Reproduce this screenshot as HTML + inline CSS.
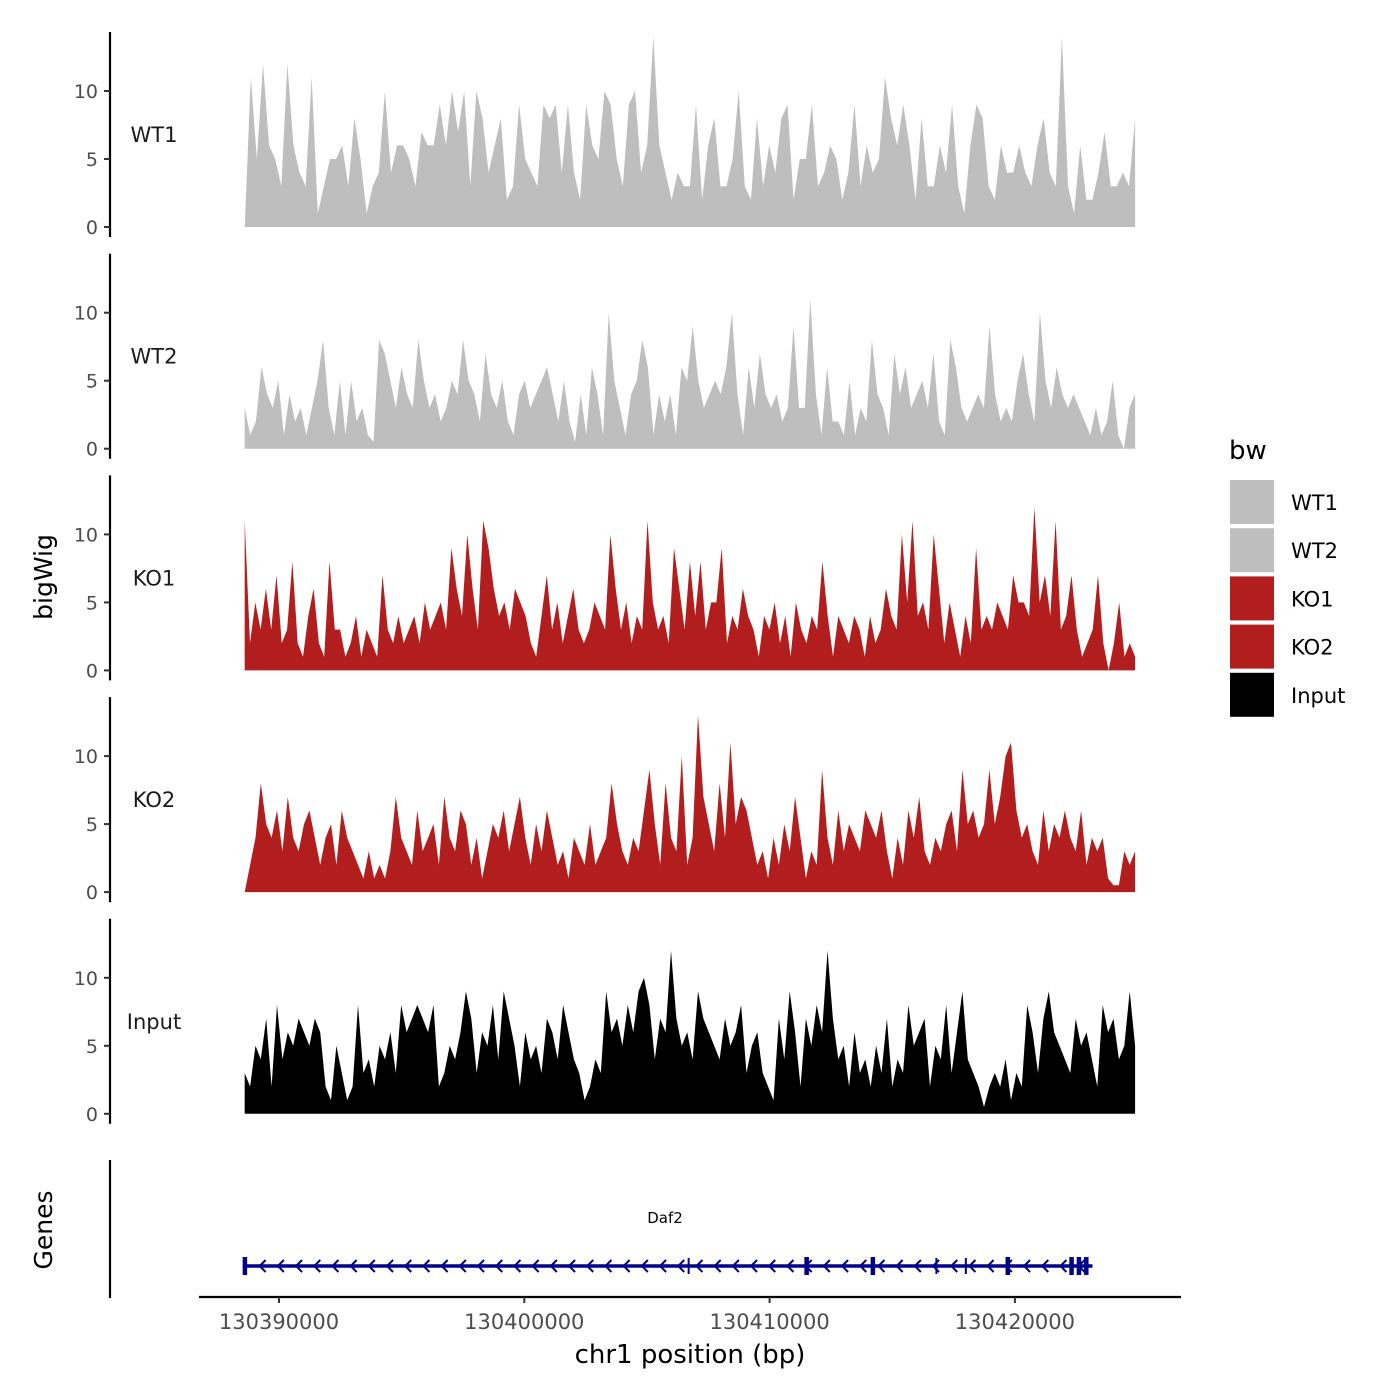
<!DOCTYPE html>
<html><head><meta charset="utf-8"><style>
html,body{margin:0;padding:0;background:#fff;}
svg{display:block;font-family:"DejaVu Sans","Liberation Sans",sans-serif;}
</style></head><body>
<svg id="chart" width="1400" height="1400" viewBox="0 0 1400 1400" xmlns="http://www.w3.org/2000/svg"></svg>
<script>
const trackNames = ["WT1","WT2","KO1","KO2","Input"];
const trackColors = ["#bebebe","#bebebe","#b21e1e","#b21e1e","#000000"];
const wt1 = [0,11,5,12,6,5,3,12,6,4,3,11,1,3,5,5,6,3,8,5,1,3,4,10,4,6,6,5,3,7,6,6,9,6,10,7,10,3,10,8,4,6,8,2,3,9,5,4,3,9,8,9,4,9,4,2,9,6,5,10,9,5,3,9,10,4,6,14,6,4,2,4,3,3,9,2,6,8,3,3,5,10,3,2,8,3,6,4,8,9,2,5,5,9,3,4,6,5,2,4,9,3,6,4,5,11,8,6,9,6,2,8,3,3,6,4,9,3,1,6,9,8,3,2,6,4,4,6,4,3,6,8,4,3,14,3,1,6,2,2,4,7,3,3,4,3,8];
const wt2 = [3,1,2,6,4,3,5,1,4,2,3,1,3,5,8,3,1,5,1,5,2,3,1,0.5,8,7,5,3,6,4,3,8,5,3,4,2,3,5,4,8,5,4,2,7,4,3,5,2,1,4,5,3,4,5,6,4,2,5,2,0.5,4,1,6,4,1,10,5,3,1,4,5,8,6,1,4,2,4,1,6,5,9,5,3,4,5,4,6,10,4,1,6,3,7,4,3,4,2,3,9,3,3,11,4,1,6,2,2,1,5,1,3,2,8,4,3,1,7,4,6,3,4,5,3,7,2,1,8,6,3,2,3,4,3,9,4,2,3,2,5,7,4,2,10,5,3,6,4,3,4,3,2,1,3,1,2,5,1,0,3,4];
const ko1 = [11,2,5,3,6,3,7,2,3,8,2,1,4,6,2,1,8,3,3,1,2,4,1,3,2,1,7,3,2,4,2,3,4,2,5,3,4,5,3,9,6,4,10,6,3,11,9,6,4,5,3,6,5,4,2,1,4,7,3,5,2,4,6,3,2,3,5,4,3,10,6,3,5,2,4,3,11,5,3,4,2,9,6,3,8,4,8,3,5,5,9,2,4,3,6,4,3,1,4,3,5,2,4,1,5,3,2,4,3,8,4,1,4,3,2,4,3,1,4,2,3,6,4,3,10,5,11,4,5,3,10,6,2,5,3,1,4,2,9,3,4,3,5,4,3,7,5,5,4,12,5,7,4,11,3,4,7,3,1,2,3,7,2,0,2,5,1,2,1];
const ko2 = [0,2,4,8,5,4,6,3,7,4,3,5,6,4,2,4,5,2,6,4,3,2,1,3,1,2,1,3,7,4,3,2,6,3,4,5,2,7,4,3,6,5,2,4,1,3,5,4,6,3,5,7,4,2,5,3,6,4,2,3,1,4,3,2,5,2,3,4,8,5,3,2,4,3,6,9,5,2,8,4,3,10,2,4,13,7,5,3,8,4,11,5,7,6,4,2,3,1,4,2,5,3,7,4,1,3,2,9,4,2,6,3,5,4,3,6,5,4,6,3,1,4,2,6,4,7,3,2,4,3,5,6,3,9,5,6,4,5,9,5,7,10,11,6,4,5,3,2,6,3,5,4,6,4,3,6,2,4,3,4,1,0.5,0.5,3,2,3];
const inputTrack = [3,2,5,4,7,2,8,4,6,5,7,6,5,7,6,2,1,5,3,1,2,8,3,4,2,5,4,6,3,8,6,7,8,7,6,8,2,3,5,4,6,9,7,3,6,5,8,4,9,7,5,2,6,4,5,3,7,6,4,8,6,4,3,1,2,4,3,9,6,7,5,8,6,9,10,8,4,7,6,12,7,5,6,4,9,7,6,5,4,7,5,6,8,3,5,6,3,2,1,7,4,9,6,2,7,5,8,6,12,7,4,5,2,6,3,4,2,5,3,7,2,4,3,8,5,6,7,2,5,4,8,3,6,9,4,3,2,0.5,2,3,2,4,1,3,2,8,6,3,7,9,6,5,4,3,7,5,6,4,2,8,6,7,4,5,9,5];
const trackData = [wt1,wt2,ko1,ko2,inputTrack];
const regionStart = 130388600, regionEnd = 130424900;
const yTicks = [0,5,10];
const xTicks = [130390000,130400000,130410000,130420000];
const geneStart = 130388600, geneEnd = 130423000;
const exons = [130388600,130411500,130414200,130419700,130422300,130422600,130422900];
const smallExons = [130406700,130416800,130418000];
const geneName = "Daf2";

const NS="http://www.w3.org/2000/svg";
const svg=document.getElementById('chart');
function mk(tag,attrs,parent){const e=document.createElementNS(NS,tag);for(const k in attrs)e.setAttribute(k,attrs[k]);(parent||svg).appendChild(e);return e;}
const xScale = bp => 279 + (bp-130390000)*245.3/10000;
const baseY = i => 227 + i*221.7;
const yScale = (v,i) => baseY(i) - v*13.6;

trackData.forEach((arr,i)=>{
  const g=mk('g',{});
  
  
  const n=arr.length;
  let d='M'+xScale(regionStart)+','+baseY(i);
  arr.forEach((v,j)=>{const bp=regionStart+(regionEnd-regionStart)*j/(n-1);d+=' L'+xScale(bp).toFixed(1)+','+yScale(v,i).toFixed(1);});
  d+=' L'+xScale(regionEnd)+','+baseY(i)+' Z';
  const p=mk('path',{d:d,fill:trackColors[i]},g);
  
  
  const ax=mk('line',{x1:110,x2:110,y1:baseY(i)-195,y2:baseY(i)+10,stroke:'#000','stroke-width':2.2},g);
  
  
  yTicks.forEach(t=>{
    mk('line',{x1:104,x2:110,y1:yScale(t,i),y2:yScale(t,i),stroke:'#333','stroke-width':2},g);
    const tl=mk('text',{x:98,y:yScale(t,i)+7,'text-anchor':'end','font-size':19,fill:'#4d4d4d'},g);
    tl.textContent=t;
    
    
  });
  const lab=mk('text',{x:154,y:baseY(i)-85,'text-anchor':'middle','font-size':21,fill:'#1a1a1a'},g);
  lab.textContent=trackNames[i];
  
  
});

const yt=mk('text',{x:0,y:0,'text-anchor':'middle','font-size':25,transform:'translate(52,577) rotate(-90)'});
yt.textContent='bigWig';



const gg=mk('g',{});


mk('line',{x1:110,x2:110,y1:1160,y2:1298,stroke:'#000','stroke-width':2.2},gg);
const gt=mk('text',{x:0,y:0,'text-anchor':'middle','font-size':25,transform:'translate(52,1230) rotate(-90)'},gg);
gt.textContent='Genes';


const gy=1266, col='#00008b';
mk('line',{x1:xScale(geneStart),x2:xScale(geneEnd)+4,y1:gy,y2:gy,stroke:col,'stroke-width':3.5},gg);
for(let x=xScale(geneStart)+18;x<xScale(geneEnd)-5;x+=18.2){
  mk('path',{d:`M${x+3},${gy-6} L${x-3},${gy} L${x+3},${gy+6}`,stroke:col,'stroke-width':2,fill:'none'},gg);
}
exons.forEach(e=>{mk('rect',{x:xScale(e)-2,y:gy-9,width:4.5,height:18,fill:col},gg);});
smallExons.forEach(e=>{mk('rect',{x:xScale(e)-1,y:gy-8,width:2,height:16,fill:col},gg);});
const gn=mk('text',{x:665,y:1223,'text-anchor':'middle','font-size':15,fill:'#000'},gg);
gn.textContent=geneName;



const xa=mk('line',{x1:199,x2:1181,y1:1297,y2:1297,stroke:'#000','stroke-width':2.2});


xTicks.forEach(t=>{
  mk('line',{x1:xScale(t),x2:xScale(t),y1:1297,y2:1303,stroke:'#333','stroke-width':2});
  const tl=mk('text',{x:xScale(t),y:1329,'text-anchor':'middle','font-size':21,fill:'#4d4d4d'});
  tl.textContent=t;
  
  
});
const xt=mk('text',{x:690,y:1363,'text-anchor':'middle','font-size':26});
xt.textContent='chr1 position (bp)';



const lg=mk('g',{});


const ltt=mk('text',{x:1229,y:459,'font-size':26},lg);
ltt.textContent='bw';


trackNames.forEach((n,i)=>{
  const y=480+i*48.2;
  const r=mk('rect',{x:1230,y:y,width:44,height:44,fill:trackColors[i]},lg);
  
  
  const t=mk('text',{x:1291,y:y+30,'font-size':21},lg);
  t.textContent=n;
  
  
});
</script>
</body></html>
